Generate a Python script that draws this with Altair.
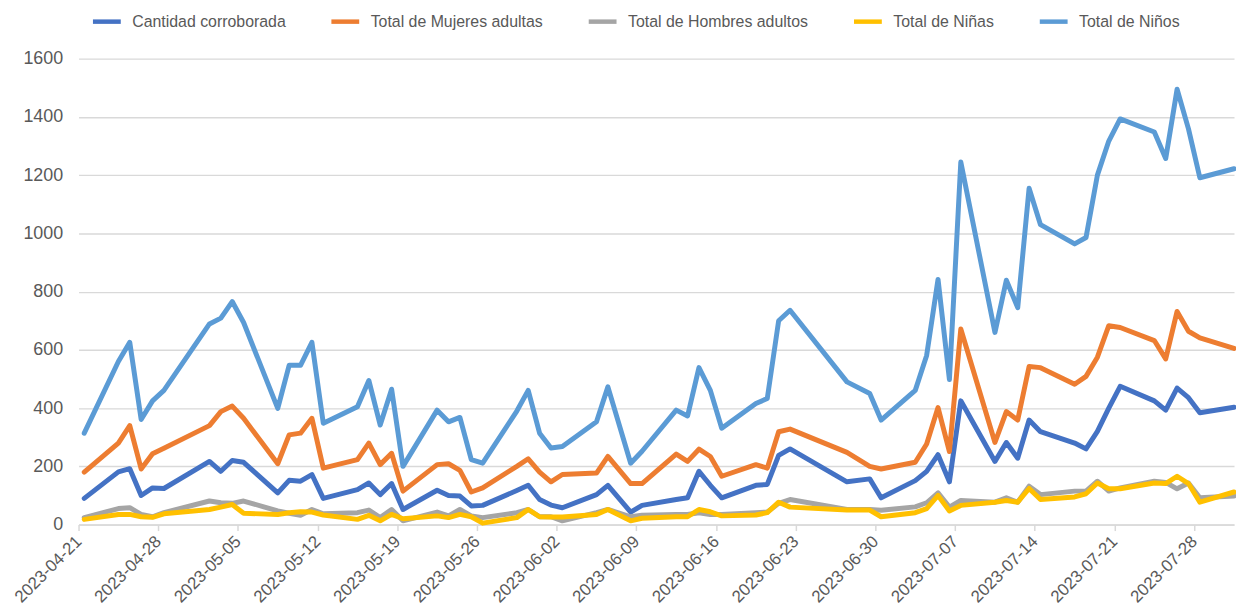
import altair as alt
import pandas as pd

fechas = [
    "2023-04-21", "2023-04-24", "2023-04-25", "2023-04-26", "2023-04-27", "2023-04-28",
    "2023-05-02", "2023-05-03", "2023-05-04", "2023-05-05",
    "2023-05-08", "2023-05-09", "2023-05-10", "2023-05-11", "2023-05-12",
    "2023-05-15", "2023-05-16", "2023-05-17", "2023-05-18", "2023-05-19",
    "2023-05-22", "2023-05-23", "2023-05-24", "2023-05-25", "2023-05-26",
    "2023-05-29", "2023-05-30", "2023-05-31", "2023-06-01", "2023-06-02",
    "2023-06-05", "2023-06-06", "2023-06-08", "2023-06-09",
    "2023-06-12", "2023-06-13", "2023-06-14", "2023-06-15", "2023-06-16",
    "2023-06-19", "2023-06-20", "2023-06-21", "2023-06-22",
    "2023-06-27", "2023-06-29", "2023-06-30",
    "2023-07-03", "2023-07-04", "2023-07-05", "2023-07-06", "2023-07-07",
    "2023-07-10", "2023-07-11", "2023-07-12", "2023-07-13", "2023-07-14",
    "2023-07-17", "2023-07-18", "2023-07-19", "2023-07-20", "2023-07-21",
    "2023-07-24", "2023-07-25", "2023-07-26", "2023-07-27", "2023-07-28",
    "2023-07-31",
]

cantidad = [90, 181, 192, 100, 126, 124, 217, 183, 220, 214, 109, 152, 149, 172, 90,
            120, 143, 103, 141, 52, 118, 100, 98, 64, 66, 117, 135, 86, 67, 58,
            103, 135, 43, 66, 86, 92, 183, 135, 92, 135, 138, 238, 260,
            147, 157, 92, 151, 183, 240, 147, 425, 217, 282, 228, 359, 319,
            280, 260, 320, 400, 475, 425, 393, 469, 436, 384, 403]

mujeres = [180, 280, 340, 191, 243, 262, 340, 388, 407, 365, 209, 308, 314, 365, 194,
           223, 280, 206, 245, 115, 206, 209, 186, 112, 126, 200, 226, 180, 147, 172,
           177, 234, 141, 141, 242, 217, 259, 234, 166, 206, 194, 319, 328,
           248, 200, 191, 214, 277, 402, 251, 672, 282, 388, 359, 543, 539,
           482, 509, 575, 683, 677, 632, 569, 732, 664, 641, 605]

hombres = [24, 55, 58, 35, 27, 41, 81, 75, 73, 81, 47, 39, 32, 52, 37,
           41, 50, 24, 52, 13, 43, 30, 52, 30, 24, 41, 52, 27, 27, 13,
           41, 52, 27, 32, 35, 35, 41, 35, 35, 41, 43, 73, 86,
           52, 52, 49, 61, 75, 109, 60, 83, 77, 92, 77, 132, 103,
           115, 115, 149, 115, 126, 149, 145, 123, 143, 92, 98]

ninas = [18, 35, 35, 27, 25, 37, 52, 60, 69, 39, 35, 41, 44, 43, 33,
         18, 32, 13, 35, 20, 30, 24, 35, 27, 5, 24, 52, 27, 26, 26,
         35, 52, 13, 22, 27, 27, 52, 44, 30, 33, 41, 77, 60,
         50, 50, 27, 41, 55, 100, 47, 66, 77, 83, 77, 124, 86,
         95, 106, 143, 123, 123, 143, 141, 166, 141, 77, 112]

ninos = [314, 560, 626, 361, 425, 461, 689, 709, 766, 694, 399, 547, 547, 626, 348,
         405, 495, 342, 465, 200, 393, 353, 368, 223, 211, 390, 461, 314, 263, 268,
         353, 473, 211, 252, 393, 373, 539, 461, 331, 416, 433, 700, 736,
         490, 450, 359, 461, 581, 842, 498, 1245, 660, 839, 745, 1155, 1030,
         964, 986, 1200, 1317, 1393, 1348, 1257, 1495, 1359, 1191, 1222]

series = ["Cantidad corroborada", "Total de Mujeres adultas", "Total de Hombres adultos",
          "Total de Niñas", "Total de Niños"]
colores = ["#4472C4", "#ED7D31", "#A5A5A5", "#FFC000", "#5B9BD5"]
valores_y = [0, 200, 400, 600, 800, 1000, 1200, 1400, 1600]
ticks_x = [(4, 21), (4, 28), (5, 5), (5, 12), (5, 19), (5, 26), (6, 2), (6, 9),
           (6, 16), (6, 23), (6, 30), (7, 7), (7, 14), (7, 21), (7, 28)]

rows = []
for nombre, vals in zip(series, [cantidad, mujeres, hombres, ninas, ninos]):
    for f, v in zip(fechas, vals):
        rows.append({"fecha": f, "serie": nombre, "valor": v})
df = pd.DataFrame(rows)

FONT = "Liberation Sans"
GRAY_TXT = "#595959"

x_vals = [alt.DateTime(year=2023, month=m, date=d, utc=True) for m, d in ticks_x]

chart = alt.Chart(df).mark_line(strokeWidth=5, strokeJoin="round", strokeCap="round").encode(
    x=alt.X(
        "fecha:T",
        timeUnit="utcyearmonthdate",
        bandPosition=0.5,
        scale=alt.Scale(domain=[alt.DateTime(year=2023, month=4, date=21, utc=True),
                                alt.DateTime(year=2023, month=7, date=31, hours=12, utc=True)]),
        axis=alt.Axis(
            values=x_vals, format="%Y-%m-%d", labelAngle=315, labelAlign="right",
            labelBaseline="middle", labelPadding=8, labelFontSize=17, labelColor=GRAY_TXT,
            labelFont=FONT, domainColor="#D9D9D9", domainWidth=1.5, tickColor="#D9D9D9",
            tickSize=6, tickWidth=1.5, grid=False, title=None, labelFlush=False,
            labelOverlap=False, labelBound=False,
        ),
    ),
    y=alt.Y(
        "valor:Q",
        scale=alt.Scale(domain=[0, 1600], nice=False),
        axis=alt.Axis(
            values=valores_y, format="d", grid=True, gridColor="#D9D9D9", gridWidth=1.4,
            domain=False, ticks=False, labelPadding=16, labelFontSize=18,
            labelColor=GRAY_TXT, labelFont=FONT, title=None,
        ),
    ),
    color=alt.Color(
        "serie:N",
        scale=alt.Scale(domain=series, range=colores),
        legend=alt.Legend(
            orient="none", legendX=12, legendY=-54, direction="horizontal", columns=5,
            title=None, symbolType="stroke", symbolStrokeWidth=4.5, symbolSize=784,
            labelFontSize=16, labelColor=GRAY_TXT, labelFont=FONT, columnPadding=36,
            labelOffset=9, labelLimit=0,
        ),
    ),
).properties(
    width=1163,
    height=469,
    autosize=alt.AutoSizeParams(type="none"),
    padding={"left": 71, "top": 49, "right": 2, "bottom": 90},
).configure_view(stroke=None)

chart.save("out.html", embed_options={"renderer": "svg", "actions": False})
